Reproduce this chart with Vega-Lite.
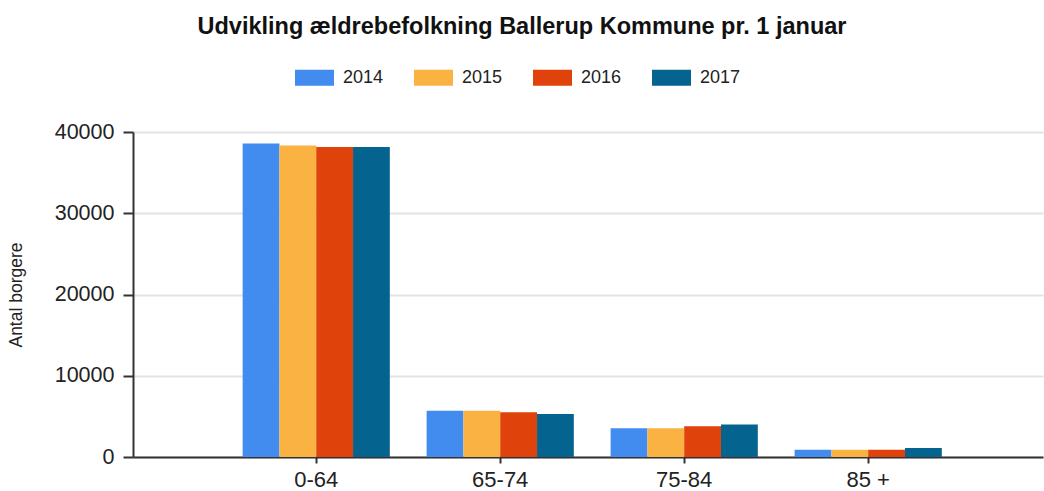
{
  "$schema": "https://vega.github.io/schema/vega-lite/v6.json",
  "width": 910,
  "height": 325,
  "autosize": "none",
  "padding": {"left": 133, "top": 132, "right": 1, "bottom": 34},
  "background": "white",
  "title": {
    "text": "Udvikling ældrebefolkning Ballerup Kommune pr. 1 januar",
    "font": "Liberation Sans",
    "fontSize": 23.5,
    "fontWeight": "bold",
    "color": "#111111",
    "anchor": "middle",
    "frame": "group",
    "baseline": "alphabetic",
    "dx": -66,
    "offset": 1
  },
  "data": {
    "values": [
      {"age": "0-64", "year": "2014", "value": 38600},
      {"age": "0-64", "year": "2015", "value": 38350},
      {"age": "0-64", "year": "2016", "value": 38150},
      {"age": "0-64", "year": "2017", "value": 38150},
      {"age": "65-74", "year": "2014", "value": 5700},
      {"age": "65-74", "year": "2015", "value": 5700},
      {"age": "65-74", "year": "2016", "value": 5500},
      {"age": "65-74", "year": "2017", "value": 5300},
      {"age": "75-84", "year": "2014", "value": 3550},
      {"age": "75-84", "year": "2015", "value": 3550},
      {"age": "75-84", "year": "2016", "value": 3800},
      {"age": "75-84", "year": "2017", "value": 4000},
      {"age": "85 +", "year": "2014", "value": 900},
      {"age": "85 +", "year": "2015", "value": 900},
      {"age": "85 +", "year": "2016", "value": 900},
      {"age": "85 +", "year": "2017", "value": 1100}
    ]
  },
  "mark": {"type": "bar", "strokeWidth": 0},
  "encoding": {
    "x": {
      "field": "age",
      "type": "nominal",
      "sort": ["0-64", "65-74", "75-84", "85 +"],
      "scale": {"paddingInner": 0.2, "paddingOuter": 0.573, "align": 0.52},
      "axis": {
        "title": null,
        "labelAngle": 0,
        "labelFont": "Liberation Sans",
        "labelFontSize": 22,
        "labelColor": "#222222",
        "labelPadding": 6,
        "tickSize": 6,
        "tickWidth": 2,
        "tickColor": "#333333",
        "domainColor": "#333333",
        "domainWidth": 2,
        "grid": false
      }
    },
    "xOffset": {
      "field": "year",
      "type": "nominal",
      "scale": {"paddingInner": 0, "paddingOuter": 0}
    },
    "y": {
      "field": "value",
      "type": "quantitative",
      "scale": {"domain": [0, 40000], "nice": false},
      "axis": {
        "title": "Antal borgere",
        "titleFont": "Liberation Sans",
        "titleFontSize": 17.5,
        "titleFontWeight": "normal",
        "titleColor": "#222222",
        "titleX": -117,
        "titleY": 162.5,
        "titleAngle": 270,
        "titleAlign": "center",
        "titleBaseline": "middle",
        "values": [0, 10000, 20000, 30000, 40000],
        "format": "d",
        "labelFont": "Liberation Sans",
        "labelFontSize": 21.5,
        "labelColor": "#222222",
        "labelPadding": 9,
        "tickSize": 10,
        "tickWidth": 2,
        "tickColor": "#333333",
        "domainColor": "#333333",
        "domainWidth": 2,
        "gridColor": "#e3e3e3",
        "gridWidth": 2
      }
    },
    "color": {
      "field": "year",
      "type": "nominal",
      "scale": {
        "domain": ["2014", "2015", "2016", "2017"],
        "range": ["#428bef", "#fab242", "#e0420b", "#05648f"]
      },
      "legend": {
        "orient": "none",
        "legendX": 162,
        "legendY": -74,
        "direction": "horizontal",
        "title": null,
        "symbolType": "M-1,-0.41H1V0.41H-1Z",
        "symbolSize": 1521,
        "symbolStrokeWidth": 0,
        "symbolOpacity": 1,
        "labelFont": "Liberation Sans",
        "labelFontSize": 18,
        "labelColor": "#222222",
        "labelOffset": 9,
        "columnPadding": 30
      }
    }
  },
  "config": {"view": {"stroke": null}}
}
